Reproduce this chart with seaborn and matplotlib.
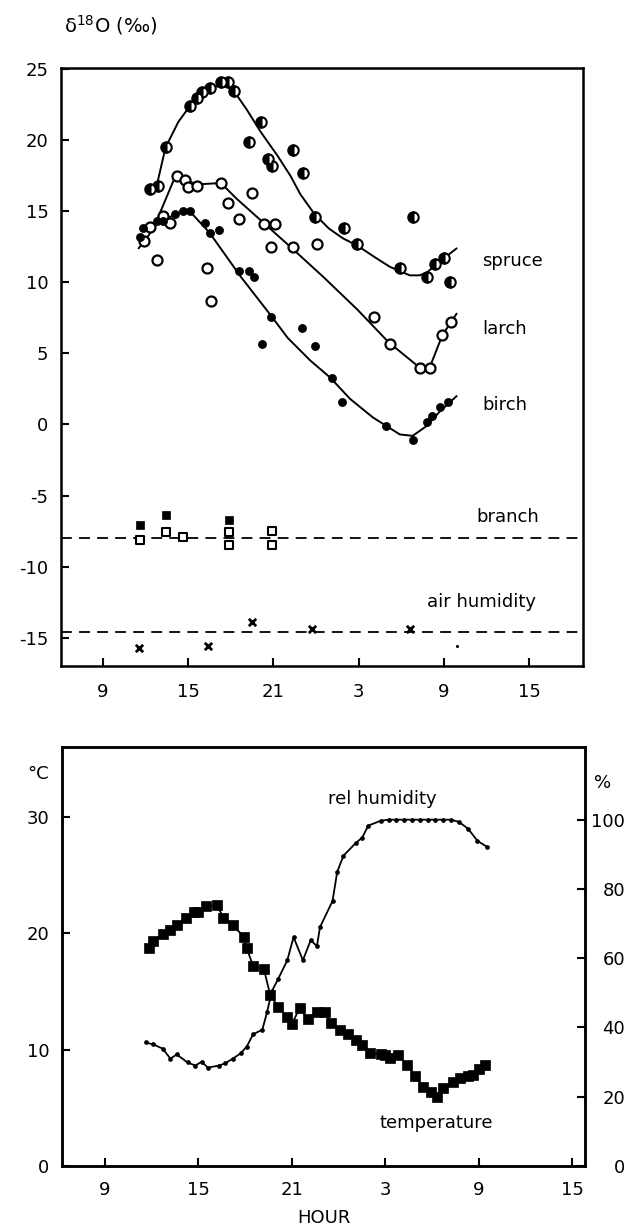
import seaborn as sns
import matplotlib.pyplot as plt

# hours run on past midnight: 27 = 3 h, 33 = 9 h, 39 = 15 h of the next day
hour_ticks = [9, 15, 21, 27, 33, 39]
hour_labels = ["9", "15", "21", "3", "9", "15"]

# --- upper panel: d18O of leaf water ---
spruce_h = [12.3, 12.9, 13.4, 15.1, 15.6, 16.0, 16.5, 17.3, 17.8, 18.2, 19.3, 20.1, 20.6,
            20.9, 22.4, 23.1, 23.9, 26.0, 26.9, 30.8, 29.9, 31.8, 32.4, 33.0, 33.4]
spruce_d = [16.6, 16.8, 19.5, 22.4, 23.0, 23.4, 23.7, 24.1, 24.1, 23.5, 19.9, 21.3, 18.7,
            18.2, 19.3, 17.7, 14.6, 13.8, 12.7, 14.6, 11.0, 10.4, 11.3, 11.7, 10.0]
spruce_fit_h = [12.8, 13.4, 14.3, 15.1, 16.3, 17.5, 18.2, 19.1, 20.1, 21.3, 22.2, 22.9, 23.9,
                24.9, 25.9, 26.9, 28.1, 29.2, 29.9, 30.6, 31.3, 31.8, 32.4, 33.0, 33.9]
spruce_fit_d = [16.9, 19.5, 21.3, 22.4, 23.5, 24.0, 23.5, 22.2, 20.6, 18.9, 17.5, 16.2, 14.8,
                13.8, 13.1, 12.6, 11.8, 11.1, 10.8, 10.5, 10.5, 10.7, 11.2, 11.7, 12.4]

larch_h = [11.9, 12.3, 12.8, 13.2, 13.7, 14.2, 14.8, 15.0, 15.6, 16.3, 16.6, 17.3, 17.8,
           18.6, 19.5, 20.3, 21.1, 20.8, 22.4, 24.1, 28.1, 29.2, 31.3, 32.0, 32.9, 33.5]
larch_d = [12.9, 13.9, 11.6, 14.7, 14.2, 17.5, 17.2, 16.7, 16.8, 11.0, 8.7, 17.0, 15.6,
           14.5, 16.3, 14.1, 14.1, 12.5, 12.5, 12.7, 7.6, 5.7, 4.0, 4.0, 6.3, 7.2]
larch_fit_h = [12.8, 14.1, 15.6, 17.3, 18.4, 20.3, 22.2, 24.5, 26.9, 29.1, 31.3, 32.0, 32.9, 33.9]
larch_fit_d = [14.4, 17.5, 16.9, 17.0, 15.9, 14.2, 12.5, 10.4, 8.1, 5.8, 4.0, 4.0, 6.3, 7.8]

birch_h = [11.6, 11.8, 12.8, 13.2, 14.1, 14.6, 15.1, 16.2, 16.5, 17.2, 18.6, 19.3, 19.6,
           20.8, 20.2, 23.0, 23.9, 25.1, 25.8, 28.9, 30.8, 31.8, 32.2, 32.7, 33.3]
birch_d = [13.2, 13.8, 14.3, 14.3, 14.8, 15.0, 15.0, 14.2, 13.5, 13.7, 10.8, 10.8, 10.4,
           7.6, 5.7, 6.8, 5.5, 3.3, 1.6, -0.1, -1.1, 0.2, 0.6, 1.2, 1.6]
birch_fit_h = [11.5, 12.0, 12.8, 14.6, 15.3, 16.5, 18.7, 20.8, 22.0, 23.6, 25.0, 26.4, 28.0,
               29.9, 30.8, 31.8, 32.7, 33.9]
birch_fit_d = [12.4, 13.0, 14.2, 15.0, 14.8, 13.5, 10.4, 7.7, 6.1, 4.5, 3.3, 1.8, 0.5,
               -0.7, -0.8, -0.1, 0.9, 2.0]

branch_fill_h = [11.6, 13.4, 17.9]
branch_fill_d = [-7.1, -6.4, -6.7]
branch_open_h = [11.6, 13.4, 14.6, 17.9, 17.9, 20.9, 20.9]
branch_open_d = [-8.1, -7.6, -7.9, -7.6, -8.5, -7.5, -8.5]
branch_level = -8.0

air_h = [11.5, 16.4, 19.5, 23.7, 30.6]
air_d = [-15.7, -15.6, -13.9, -14.4, -14.4]
air_level = -14.6
stray_h = [33.9]
stray_d = [-15.6]

# --- lower panel: temperature and relative humidity ---
temp_h = [11.8, 12.1, 12.7, 13.2, 13.6, 14.2, 14.7, 15.0, 15.5, 16.2, 16.6, 17.2, 17.9, 18.1,
          18.5, 19.2, 19.6, 20.1, 20.7, 21.0, 21.5, 22.0, 22.6, 23.1, 23.5, 24.1, 24.6, 25.1,
          25.5, 26.0, 26.7, 27.0, 27.3, 27.8, 28.4, 28.9, 29.4, 29.9, 30.3, 30.7, 31.3, 31.8,
          32.3, 32.6, 33.0, 33.4]
temp_c = [18.7, 19.3, 19.9, 20.3, 20.7, 21.3, 21.8, 21.8, 22.3, 22.4, 21.3, 20.7, 19.7, 18.7,
          17.2, 16.9, 14.7, 13.7, 12.8, 12.2, 13.6, 12.6, 13.2, 13.2, 12.3, 11.7, 11.3, 10.8,
          10.4, 9.7, 9.6, 9.5, 9.3, 9.5, 8.7, 7.7, 6.8, 6.4, 5.9, 6.7, 7.2, 7.6,
          7.7, 7.8, 8.3, 8.7]
rh_h = [11.6, 12.1, 12.7, 13.2, 13.6, 14.3, 14.8, 15.2, 15.6, 16.3, 16.7, 17.2, 17.7, 18.1,
        18.5, 19.1, 19.4, 19.7, 20.1, 20.7, 21.1, 21.7, 22.2, 22.6, 22.8, 23.6, 23.9, 24.3,
        25.1, 25.5, 25.9, 26.7, 27.2, 27.7, 28.2, 28.7, 29.2, 29.7, 30.2, 30.7, 31.2, 31.7,
        32.3, 32.9, 33.5]
rh_pct = [35.7, 35.1, 33.9, 31.0, 32.2, 29.9, 29.0, 30.1, 28.4, 29.0, 29.6, 31.0, 32.5, 34.5,
          38.0, 39.4, 44.4, 50.4, 53.9, 59.4, 66.1, 59.4, 65.2, 63.5, 69.0, 76.5, 84.9, 89.6,
          93.3, 94.8, 98.3, 99.7, 100, 100, 100, 100, 100, 100, 100, 100, 100, 99.4,
          97.4, 93.9, 92.2]

sns.set_style("ticks")
plt.rcParams["font.family"] = ["DejaVu Sans"]
plt.rcParams["axes.unicode_minus"] = False
for key in ("text.color", "axes.edgecolor", "axes.labelcolor", "xtick.color", "ytick.color"):
    plt.rcParams[key] = "black"

fig = plt.figure(figsize=(6.35, 12.31), dpi=100)
ax1 = fig.add_axes([0.0961, 0.459, 0.822, 0.4858])
ax2 = fig.add_axes([0.0976, 0.0528, 0.8236, 0.3404])
ax3 = ax2.twinx()

line_kw = dict(color="black", lw=1.4, sort=False, estimator=None)
dash = (0, (6, 4))

# fitted curves
sns.lineplot(x=spruce_fit_h, y=spruce_fit_d, ax=ax1, **line_kw)
sns.lineplot(x=larch_fit_h, y=larch_fit_d, ax=ax1, **line_kw)
sns.lineplot(x=birch_fit_h, y=birch_fit_d, ax=ax1, **line_kw)
ax1.axhline(branch_level, color="black", lw=1.3, ls=dash)
ax1.axhline(air_level, color="black", lw=1.3, ls=dash)

# measured points
ax1.plot(spruce_h, spruce_d, ls="none", marker="o", ms=7.5, mfc="black", mec="black",
         mew=1.5, fillstyle="left", markerfacecoloralt="white", zorder=3)
sns.scatterplot(x=larch_h, y=larch_d, ax=ax1, marker="o", s=52, color="white",
                edgecolor="black", linewidth=1.6, zorder=3)
sns.scatterplot(x=birch_h, y=birch_d, ax=ax1, marker="o", s=34, color="black",
                edgecolor="black", linewidth=0.5, zorder=3)
sns.scatterplot(x=branch_fill_h, y=branch_fill_d, ax=ax1, marker="s", s=36, color="black",
                edgecolor="black", linewidth=0.5, zorder=3)
sns.scatterplot(x=branch_open_h, y=branch_open_d, ax=ax1, marker="s", s=30, color="white",
                edgecolor="black", linewidth=1.5, zorder=3)
sns.scatterplot(x=air_h, y=air_d, ax=ax1, marker="x", s=28, color="black", linewidth=2.0,
                zorder=3)
sns.scatterplot(x=stray_h, y=stray_d, ax=ax1, marker="o", s=5, color="black", linewidth=0)

lab = dict(fontsize=13, va="center")
ax1.text(35.7, 11.5, "spruce", **lab)
ax1.text(35.7, 6.7, "larch", **lab)
ax1.text(35.7, 1.4, "birch", **lab)
ax1.text(35.3, -6.5, "branch", **lab)
ax1.text(31.8, -12.5, "air humidity", **lab)

ax1.set_xlim(6.04, 42.8)
ax1.set_ylim(-17.0, 25.1)
ax1.set_xticks(hour_ticks, hour_labels)
ax1.set_yticks(range(-15, 26, 5))
ax1.tick_params(direction="in", length=6, width=1.5, labelsize=13)
ax1.tick_params(axis="x", pad=12)
ax1.tick_params(axis="y", pad=9)
ax1.set_xlabel("")
ax1.set_ylabel("")

# lower panel
sns.lineplot(x=temp_h, y=temp_c, ax=ax2, color="black", lw=1.3, marker="s", markersize=6.5,
             mec="black", mew=0.5, sort=False, estimator=None)
sns.lineplot(x=rh_h, y=rh_pct, ax=ax3, color="black", lw=1.3, marker="o", markersize=2.8,
             mec="black", mew=0.5, sort=False, estimator=None)

ax2.text(23.3, 31.5, "rel humidity", **lab)
ax2.text(33.9, 3.7, "temperature", ha="right", fontsize=13, va="center")

ax2.set_xlim(6.24, 39.8)
ax2.set_ylim(0, 36)
ax3.set_ylim(0, 121)
ax2.set_xticks(hour_ticks, hour_labels)
ax2.set_yticks([0, 10, 20, 30])
ax3.set_yticks([0, 20, 40, 60, 80, 100], ["0", "20", "40", "60", "80", "100"], ha="right")
ax2.tick_params(direction="in", length=6, width=1.5, labelsize=13)
ax2.tick_params(axis="x", pad=11)
ax2.tick_params(axis="y", pad=9)
ax3.tick_params(direction="in", length=6, width=1.5, labelsize=13, pad=29)
ax2.set_xlabel("HOUR", fontsize=13, labelpad=7)
ax2.set_ylabel("")
ax3.set_ylabel("")
ax3.set_xlabel("")

for ax in (ax1, ax2, ax3):
    for sp in ax.spines.values():
        sp.set_linewidth(1.8)
        sp.set_color("black")
        sp.set_visible(True)

fig.text(111 / 635, 1 - 25 / 1231, r"δ$^{18}$O (‰)", fontsize=14, ha="center", va="center")
fig.text(38 / 635, 1 - 774 / 1231, "°C", fontsize=13, ha="center", va="center")
fig.text(603 / 635, 1 - 783 / 1231, "%", fontsize=13, ha="center", va="center")

fig.savefig("out.png", dpi=100)
